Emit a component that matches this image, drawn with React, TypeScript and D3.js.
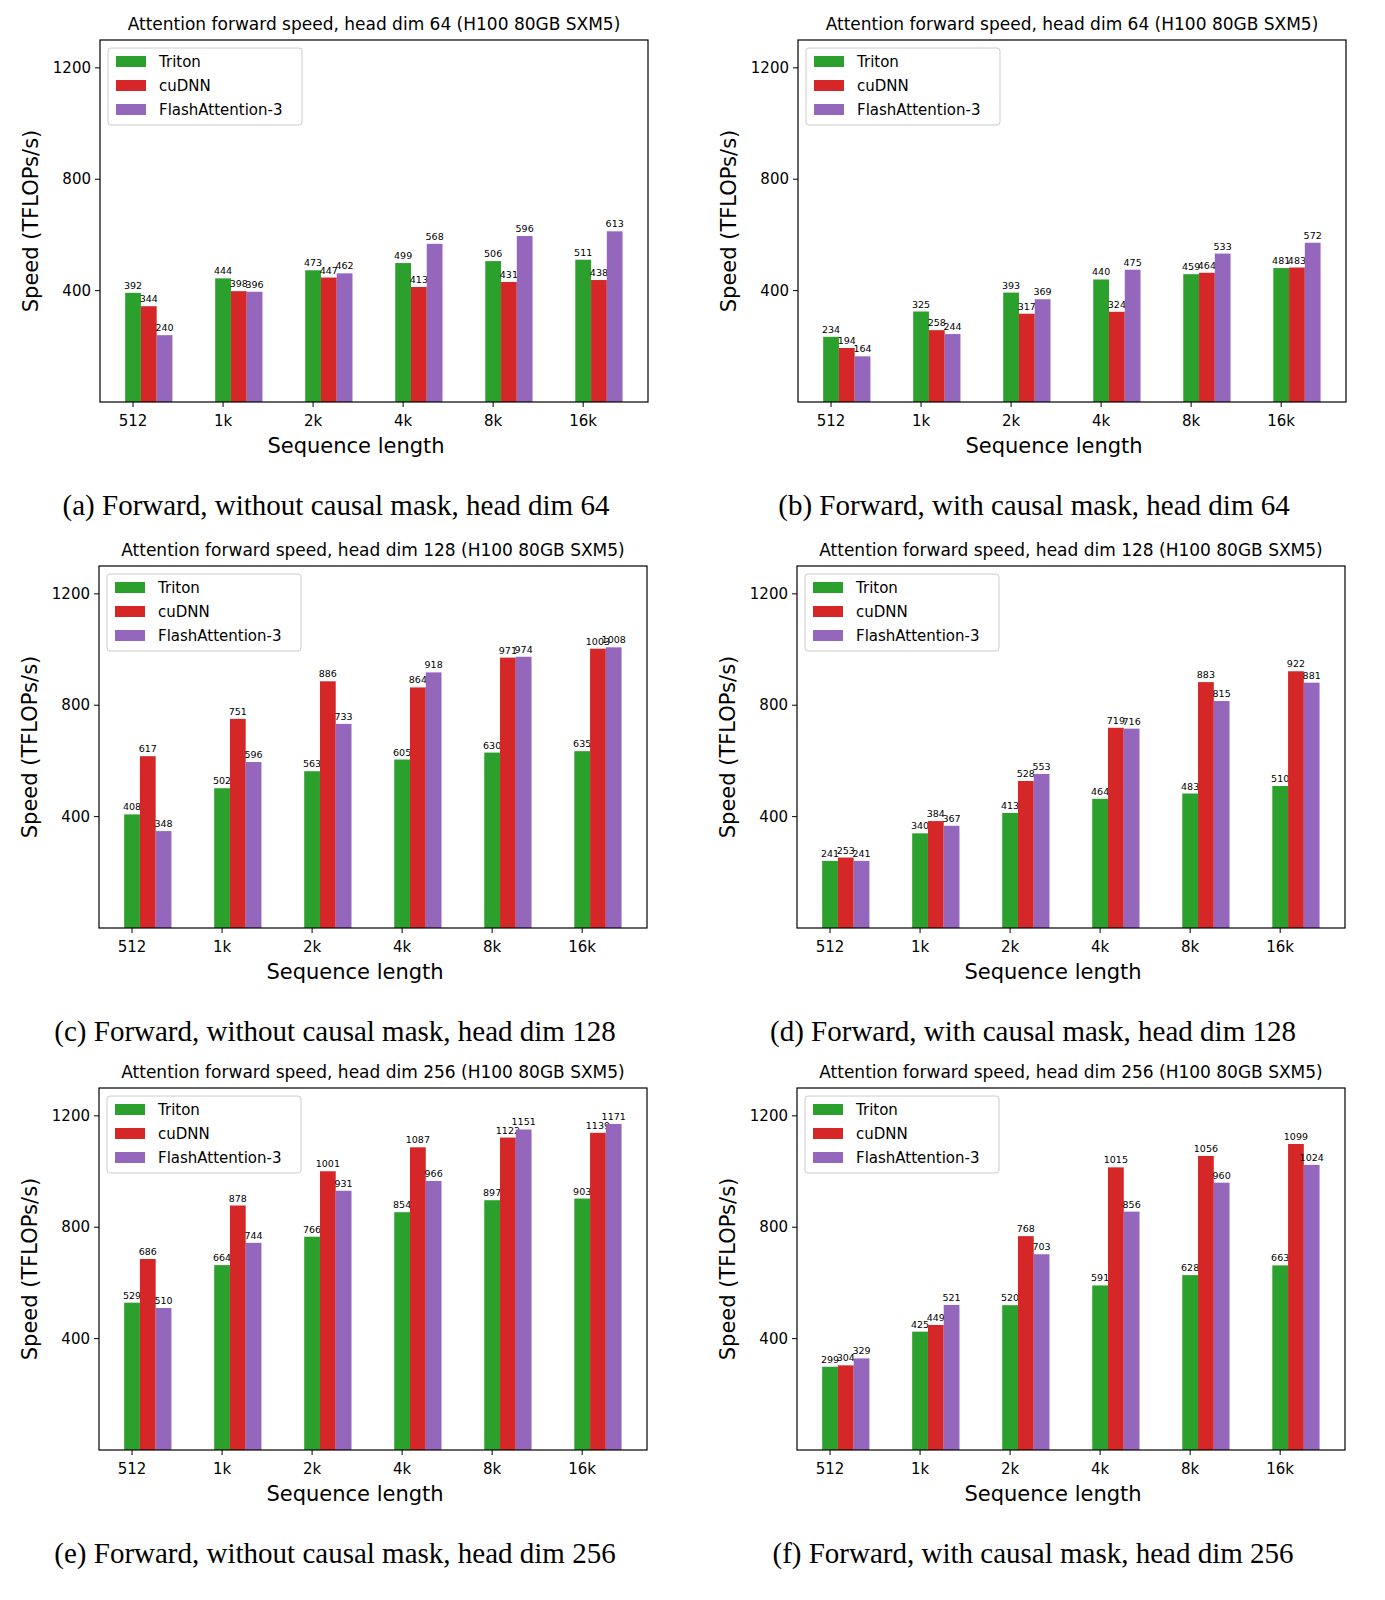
import React from "react";
import * as d3 from "d3";

const categories = ["512", "1k", "2k", "4k", "8k", "16k"];
const seriesNames = ["Triton", "cuDNN", "FlashAttention-3"];
const colors = ["#2ca02c", "#d62728", "#9467bd"];
const yTicks = [400, 800, 1200];

const aTriton = [392, 444, 473, 499, 506, 511];
const aCudnn = [344, 398, 447, 413, 431, 438];
const aFa3 = [240, 396, 462, 568, 596, 613];
const bTriton = [234, 325, 393, 440, 459, 481];
const bCudnn = [194, 258, 317, 324, 464, 483];
const bFa3 = [164, 244, 369, 475, 533, 572];
const cTriton = [408, 502, 563, 605, 630, 635];
const cCudnn = [617, 751, 886, 864, 971, 1003];
const cFa3 = [348, 596, 733, 918, 974, 1008];
const dTriton = [241, 340, 413, 464, 483, 510];
const dCudnn = [253, 384, 528, 719, 883, 922];
const dFa3 = [241, 367, 553, 716, 815, 881];
const eTriton = [529, 664, 766, 854, 897, 903];
const eCudnn = [686, 878, 1001, 1087, 1122, 1139];
const eFa3 = [510, 744, 931, 966, 1151, 1171];
const fTriton = [299, 425, 520, 591, 628, 663];
const fCudnn = [304, 449, 768, 1015, 1056, 1099];
const fFa3 = [329, 521, 703, 856, 960, 1024];

const panels = [
  { title: "Attention forward speed, head dim 64 (H100 80GB SXM5)", caption: "(a) Forward, without causal mask, head dim 64", data: [aTriton, aCudnn, aFa3], x: 92, y: 32 },
  { title: "Attention forward speed, head dim 64 (H100 80GB SXM5)", caption: "(b) Forward, with causal mask, head dim 64", data: [bTriton, bCudnn, bFa3], x: 790, y: 32 },
  { title: "Attention forward speed, head dim 128 (H100 80GB SXM5)", caption: "(c) Forward, without causal mask, head dim 128", data: [cTriton, cCudnn, cFa3], x: 91, y: 558 },
  { title: "Attention forward speed, head dim 128 (H100 80GB SXM5)", caption: "(d) Forward, with causal mask, head dim 128", data: [dTriton, dCudnn, dFa3], x: 789, y: 558 },
  { title: "Attention forward speed, head dim 256 (H100 80GB SXM5)", caption: "(e) Forward, without causal mask, head dim 256", data: [eTriton, eCudnn, eFa3], x: 91, y: 1080 },
  { title: "Attention forward speed, head dim 256 (H100 80GB SXM5)", caption: "(f) Forward, with causal mask, head dim 256", data: [fTriton, fCudnn, fFa3], x: 789, y: 1080 },
];

const W = 548, H = 362;
const sans = "DejaVu Sans";

function Panel({ p }: { p: typeof panels[0] }) {
  const x = d3.scaleLinear().domain([-0.367, 5.72]).range([0, W]);
  const y = d3.scaleLinear().domain([0, 1300]).range([H, 0]);
  const bw = 0.175;
  return (
    <g transform={`translate(${p.x},${p.y})`}>
      <text x={W / 2} y={-10} textAnchor="middle" fontFamily={sans} fontSize={17}>{p.title}</text>
      {p.data.map((s, si) =>
        s.map((v, i) => {
          const x0 = x(i + (si - 0.5) * bw) ;
          const x1 = x(i + (si + 0.5) * bw);
          return (
            <g key={`${si}-${i}`}>
              <rect x={x0} y={y(v)} width={x1 - x0} height={H - y(v)} fill={colors[si]} />
              <text x={(x0 + x1) / 2} y={y(v) - 4} textAnchor="middle" fontFamily={sans} fontSize={9.5}>{v}</text>
            </g>
          );
        })
      )}
      <rect x={0} y={0} width={W} height={H} fill="none" stroke="#000" strokeWidth={1.2} />
      {yTicks.map((t) => (
        <g key={t}>
          <line x1={-5} x2={0} y1={y(t)} y2={y(t)} stroke="#000" />
          <text x={-9} y={y(t) + 5} textAnchor="end" fontFamily={sans} fontSize={15}>{t}</text>
        </g>
      ))}
      {categories.map((c, i) => (
        <g key={c}>
          <line x1={x(i)} x2={x(i)} y1={H} y2={H + 5} stroke="#000" />
          <text x={x(i)} y={H + 24} textAnchor="middle" fontFamily={sans} fontSize={15}>{c}</text>
        </g>
      ))}
      <text x={W / 2 - 18} y={H + 51} textAnchor="middle" fontFamily={sans} fontSize={21}>Sequence length</text>
      <text transform={`translate(${-62},${H / 2}) rotate(-90)`} textAnchor="middle" fontFamily={sans} fontSize={21}>Speed (TFLOPs/s)</text>
      <g transform="translate(8,8)">
        <rect x={0} y={0} width={194} height={77} rx={3} fill="#fff" stroke="#ccc" />
        {seriesNames.map((n, i) => (
          <g key={n} transform={`translate(8,${14 + i * 24})`}>
            <rect x={0} y={-6} width={30} height={11} fill={colors[i]} />
            <text x={43} y={5} fontFamily={sans} fontSize={15}>{n}</text>
          </g>
        ))}
      </g>
      <text x={W / 2 - 38} y={H + 113} textAnchor="middle" fontFamily="Liberation Serif" fontSize={29}>{p.caption}</text>
    </g>
  );
}

export default function App() {
  return (
    <svg width={1369} height={1570} style={{ display: "block", background: "#fff" }}>
      {panels.map((p, i) => <Panel key={i} p={p} />)}
    </svg>
  );
}
